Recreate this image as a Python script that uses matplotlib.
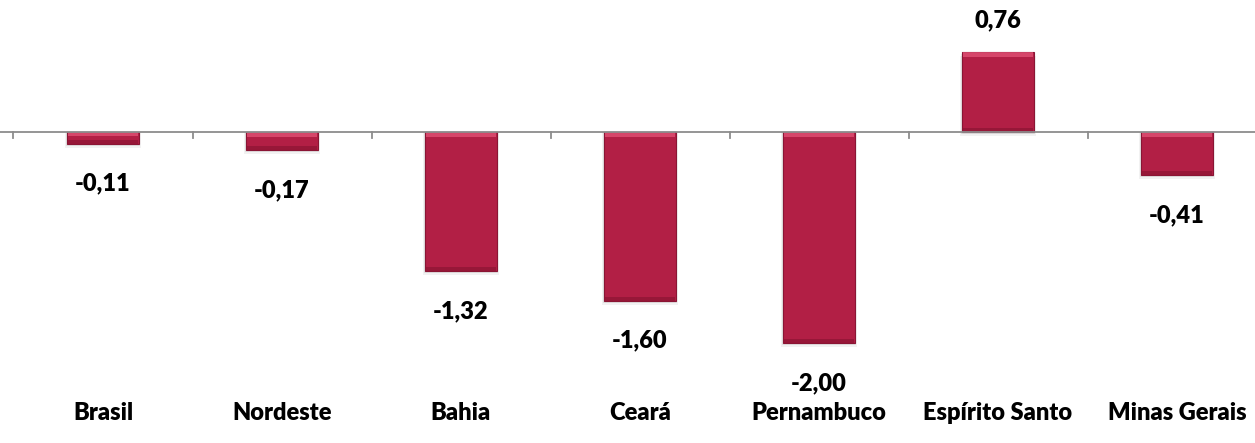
import matplotlib.pyplot as plt
import numpy as np

# variação por região/estado
categories = ["Brasil", "Nordeste", "Bahia", "Ceará", "Pernambuco", "Espírito Santo", "Minas Gerais"]
values = [-0.11, -0.17, -1.32, -1.60, -2.00, 0.76, -0.41]

bar_color = "#B21F45"
font = ["Lato", "DejaVu Sans"]

fig = plt.figure(figsize=(12.55, 4.43), dpi=100)
ax = fig.add_axes([0, 0, 1, 1])

x = np.arange(len(categories))
px = 179.0  # pixels per category
ax.set_xlim(-103 / px, (1255 - 103) / px)
ppu = 105.5  # pixels per unit on y
ax.set_ylim(-(443 - 132) / ppu, 132 / ppu)

w = 0.40
# soft shadow under the bars
for k, a in [(4, 0.05), (2, 0.07)]:
    ax.bar(x, [v - k / ppu if v < 0 else v for v in values], width=w + k / px,
           bottom=[0 if v < 0 else -k / ppu for v in values], color="black", alpha=a, linewidth=0, zorder=1)
ax.bar(x, values, width=w, color=bar_color, edgecolor="#8A1534", linewidth=0.8, zorder=2)

# bevel: light band at top edge, darker band at bottom edge
for xi, v in zip(x, values):
    band = min(5 / ppu, abs(v) * 0.35)
    top = max(v, 0)
    bot = min(v, 0)
    ax.bar(xi, -band, width=w * 0.97, bottom=top, color="#E6587B", alpha=0.7, linewidth=0, zorder=3)
    ax.bar(xi, band * 0.8, width=w * 0.97, bottom=bot, color="#7E102C", alpha=0.5, linewidth=0, zorder=3)

# axis line and tick marks
ax.axhline(0, color="#8C8C8C", linewidth=1.3, zorder=4)
for b in np.arange(-0.5, len(categories) + 0.5, 1):
    ax.plot([b, b], [0, -6 / ppu], color="#8C8C8C", linewidth=1.3, zorder=4)

for xi, v in zip(x, values):
    label = f"{v:.2f}".replace(".", ",")
    if v < 0:
        ax.text(xi, v - 40 / ppu, label, ha="center", va="center",
                fontsize=17, fontweight="heavy", family=font)
    else:
        ax.text(xi, v + 32 / ppu, label, ha="center", va="center",
                fontsize=17, fontweight="heavy", family=font)

for xi, c in zip(x, categories):
    ax.text(xi, -(413 - 132) / ppu, c, ha="center", va="center",
            fontsize=17, fontweight="heavy", family=font)

ax.axis("off")
fig.savefig("out.png", dpi=100)
